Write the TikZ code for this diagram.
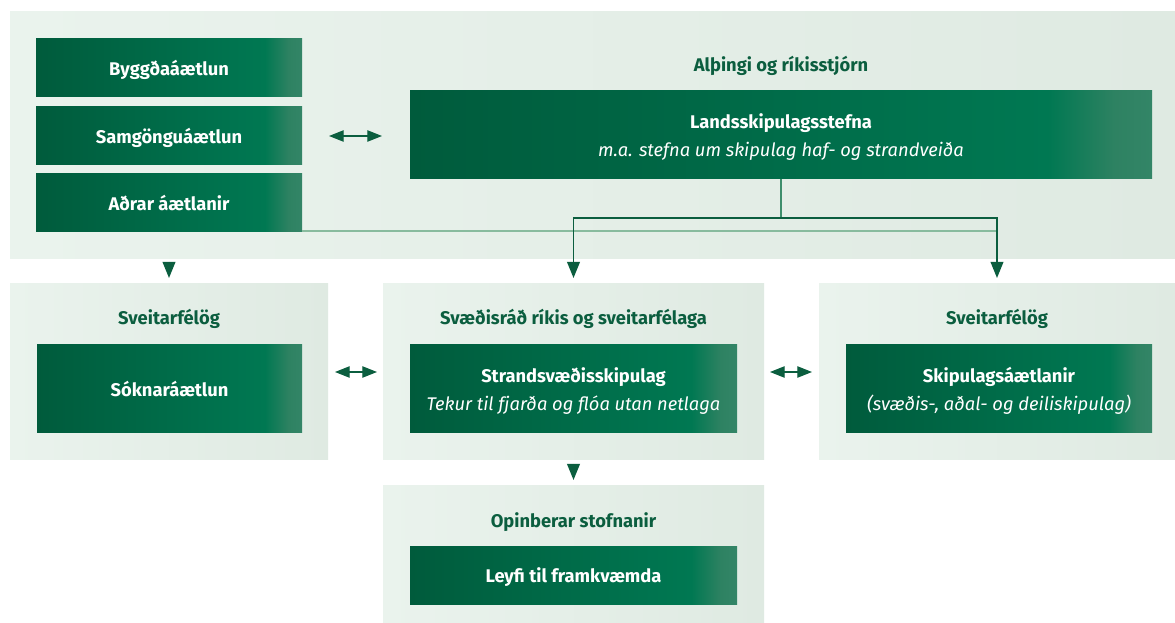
\documentclass[tikz,border=0pt]{standalone}
\usepackage{fontspec}
\setmainfont{Fira Sans}
\usetikzlibrary{arrows.meta}
\definecolor{headgreen}{HTML}{0B5E3F}
\definecolor{linegreen}{HTML}{0B5E3F}
\definecolor{stemgreen}{HTML}{3E8E6C}
\definecolor{faintgreen}{HTML}{88BB9E}
\definecolor{boxA}{HTML}{005B3C}
\definecolor{boxB}{HTML}{007852}
\definecolor{boxC}{HTML}{2E8262}
\definecolor{boxD}{HTML}{338567}
\definecolor{panA}{HTML}{EAF3ED}
\definecolor{panB}{HTML}{DFEAE2}
\pgfdeclarehorizontalshading{boxshade}{100bp}{color(0bp)=(boxA); color(25bp)=(boxA); color(68bp)=(boxB); color(72.5bp)=(boxC); color(75bp)=(boxD); color(100bp)=(boxD)}
\pgfdeclarehorizontalshading{panelshade}{100bp}{color(0bp)=(panA); color(25bp)=(panA); color(75bp)=(panB); color(100bp)=(panB)}
\begin{document}
\begin{tikzpicture}[x=0.75pt,y=-0.75pt,
  every node/.style={inner sep=0pt,outer sep=0pt,font=\fontsize{13.75}{20.5}\selectfont},
  panel/.style={shading=panelshade},
  plan/.style={shading=boxshade,text=white,align=center,font=\fontsize{13.75}{20.5}\selectfont\bfseries},
  oneline/.style={text height=11.6pt,text depth=0pt},
  twoline/.style={text depth=-4.5pt},
  head/.style={text=headgreen,font=\fontsize{13.75}{20.5}\selectfont\bfseries},
  link/.style={draw=linegreen,line width=1.1pt},
  tip/.style={-{Triangle[length=12pt,width=9.5pt]}},
  dbl/.style={draw=linegreen,line width=0.9pt,{Triangle[length=11pt,width=8.5pt]}-{Triangle[length=11pt,width=8.5pt]}}]
\fill[white] (0,0) rectangle (1175,623);
\useasboundingbox (0,0) rectangle (1175,623);
% Top block
\node[panel,minimum width=873.75pt,minimum height=185.25pt] (toppanel) at (592.5,135.5) {};
\node[plan,oneline,minimum width=199.5pt,minimum height=43.5pt] (byggda) at (169,67.5) {Byggðaáætlun};
\node[plan,oneline,minimum width=199.5pt,minimum height=43.5pt] (samg) at (169,136) {Samgönguáætlun};
\node[plan,oneline,minimum width=199.5pt,minimum height=43.5pt] (adrar) at (169,203) {Aðrar áætlanir};
\node[head] (althingi) at (781,66) {Alþingi og ríkisstjórn};
\node[plan,twoline,minimum width=556.5pt,minimum height=66pt] (lands) at (781,135) {Landsskipulagsstefna\\\mdseries\itshape m.a. stefna um skipulag haf- og strandveiða};
% Middle row
\node[panel,minimum width=238.5pt,minimum height=132pt] (leftpanel) at (169,372) {};
\node[head] (sveitl) at (169,319) {Sveitarfélög};
\node[plan,oneline,minimum width=198.75pt,minimum height=66pt] (soknar) at (169.5,389) {Sóknaráætlun};
\node[panel,minimum width=285.75pt,minimum height=132pt] (midpanel) at (573.5,372) {};
\node[head] (svaedisrad) at (573.5,319) {Svæðisráð ríkis og sveitarfélaga};
\node[plan,twoline,minimum width=245.25pt,minimum height=66pt] (strand) at (573.5,389) {Strandsvæðisskipulag\\\mdseries\itshape Tekur til fjarða og flóa utan netlaga};
\node[panel,minimum width=267pt,minimum height=132pt] (rightpanel) at (997,372) {};
\node[head] (sveitr) at (997,319) {Sveitarfélög};
\node[plan,twoline,minimum width=229.5pt,minimum height=66pt] (skipulag) at (999,389) {Skipulagsáætlanir\\\mdseries\itshape (svæðis-, aðal- og deiliskipulag)};
% Bottom block
\node[panel,minimum width=285.75pt,minimum height=102.75pt] (botpanel) at (573.5,554.5) {};
\node[head] (opinber) at (573.5,522) {Opinberar stofnanir};
\node[plan,oneline,minimum width=245.25pt,minimum height=43.5pt] (leyfi) at (573.5,575) {Leyfi til framkvæmda};
% Connectors
\coordinate (split) at (781,218);
\draw[draw=faintgreen,line width=1.1pt] ([yshift=0.75pt]adrar.south east) -- ([yshift=0.75pt]adrar.south east -| rightpanel.north);
\draw[draw=stemgreen,line width=1.1pt] (lands.south) -- (split);
\draw[link,tip,shorten >=4.5pt] (split) -| (midpanel.north);
\draw[link,tip,shorten >=4.5pt] (split) -| (rightpanel.north);
\draw[dbl,shorten <=20.25pt,shorten >=21pt] (samg.east) -- (samg.east -| lands.west);
\draw[dbl,shorten <=5.25pt,shorten >=4.5pt] (leftpanel.east) -- (midpanel.west);
\draw[dbl,shorten <=4.5pt,shorten >=5.25pt] (midpanel.east) -- (rightpanel.west);
\draw[link,tip,shorten <=2.25pt,shorten >=4.5pt] (toppanel.south -| leftpanel.north) -- (leftpanel.north);
\draw[link,tip,shorten <=3pt,shorten >=4.5pt] (midpanel.south) -- (botpanel.north);
\end{tikzpicture}
\end{document}
